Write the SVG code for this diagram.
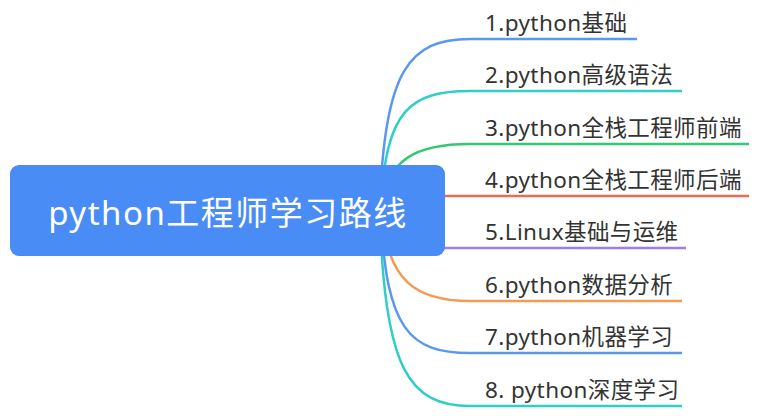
<svg xmlns="http://www.w3.org/2000/svg" width="758" height="416" viewBox="0 0 758 416">
<style>
.c{fill:none;stroke-width:2.5}
.t{font-family:"Noto Sans","Noto Sans CJK SC",sans-serif;font-size:22.5px;letter-spacing:0.4px;fill:#333}
</style>
<rect width="758" height="416" fill="#fff"/>
<g id="connectors">
<path class="c" stroke="#5a98f0" d="M380,205 C384,70 410,39 470,39 L637,39"/>
<path class="c" stroke="#2fcfc6" d="M381,205 C386,110 410,91 470,91 L682,91"/>
<path class="c" stroke="#33c873" d="M382,205 C388,160 415,144 470,144 L749,144"/>
<path class="c" stroke="#ef6a55" d="M400,196 L749,196"/>
<path class="c" stroke="#9a7ff0" d="M400,248 L686,248"/>
<path class="c" stroke="#f59a55" d="M382,215 C388,280 415,301 470,301 L682,301"/>
<path class="c" stroke="#5a98f0" d="M381,215 C386,330 410,353 470,353 L682,353"/>
<path class="c" stroke="#2fcfc6" d="M380,215 C384,370 410,406 470,406 L682,406"/>
</g>
<g id="root">
<rect x="10" y="165" width="435" height="91" rx="9" fill="#4a8cf5"/>
<text x="228" y="225" text-anchor="middle" font-family="Noto Sans,Noto Sans CJK SC,sans-serif" font-size="33" letter-spacing="1.5" fill="#fff">python工程师学习路线</text>
</g>
<g id="n1"><text class="t" x="485" y="31">1.python基础</text></g>
<g id="n2"><text class="t" x="485" y="83">2.python高级语法</text></g>
<g id="n3"><text class="t" x="485" y="136">3.python全栈工程师前端</text></g>
<g id="n4"><text class="t" x="485" y="188">4.python全栈工程师后端</text></g>
<g id="n5"><text class="t" x="485" y="240">5.Linux基础与运维</text></g>
<g id="n6"><text class="t" x="485" y="293">6.python数据分析</text></g>
<g id="n7"><text class="t" x="485" y="345">7.python机器学习</text></g>
<g id="n8"><text class="t" x="485" y="398">8. python深度学习</text></g>
</svg>
